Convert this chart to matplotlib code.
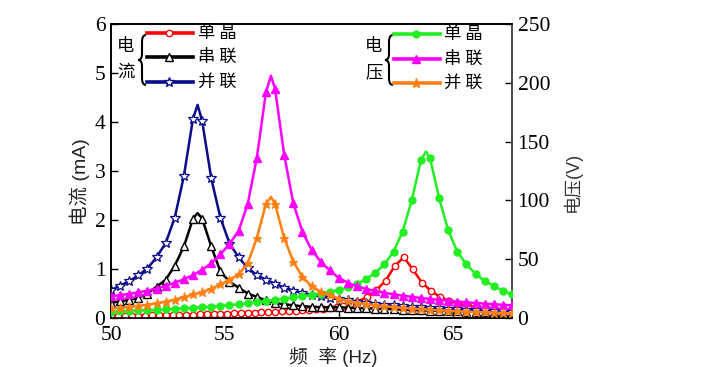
import numpy as np
import matplotlib
matplotlib.use("Agg")
import matplotlib.pyplot as plt
from matplotlib.lines import Line2D
from matplotlib.path import Path
from matplotlib.patches import PathPatch

# ---------------- data ----------------
FREQ = [50.0, 50.4, 50.8, 51.2, 51.6, 52.0, 52.4, 52.8, 53.2, 53.6,
        54.0, 54.4, 54.8, 55.2, 55.6, 56.0, 56.4, 56.8, 57.2, 57.6,
        58.0, 58.4, 58.8, 59.2, 59.6, 60.0, 60.4, 60.8, 61.2, 61.6,
        62.0, 62.4, 62.8, 63.2, 63.6, 64.0, 64.4, 64.8, 65.2, 65.6,
        66.0, 66.4, 66.8, 67.2, 67.6]

# current (mA)
I_PAR = [0.57, 0.66, 0.75, 0.87, 1.01, 1.24, 1.53, 2.05, 2.90, 4.07,
         4.02, 2.85, 2.05, 1.52, 1.24, 1.02, 0.88, 0.78, 0.70, 0.62,
         0.56, 0.51, 0.47, 0.44, 0.41, 0.38, 0.36, 0.33, 0.31, 0.29,
         0.27, 0.26, 0.24, 0.23, 0.22, 0.21, 0.20, 0.19, 0.18, 0.17,
         0.16, 0.155, 0.15, 0.14, 0.13]
I_PAR_PEAK = (53.8, 4.35)

I_SER = [0.31, 0.34, 0.37, 0.41, 0.50, 0.64, 0.78, 1.07, 1.46, 2.03,
         2.03, 1.46, 0.95, 0.74, 0.62, 0.50, 0.43, 0.36, 0.31, 0.28,
         0.26, 0.24, 0.23, 0.22, 0.22, 0.22, 0.21, 0.20, 0.20, 0.19,
         0.18, 0.18, 0.17, 0.16, 0.16, 0.15, 0.15, 0.14, 0.14, 0.13,
         0.13, 0.13, 0.12, 0.12, 0.12]
I_SER_PEAK = (53.8, 2.14)

FREQ_SINGLE = [50.0, 50.3, 50.6, 50.9, 51.2, 51.5, 51.8, 52.1, 52.4, 52.7,
               53.0, 53.3, 53.6, 53.9, 54.2, 54.5, 54.8, 55.1, 55.4, 55.7,
               56.0, 56.3, 56.6, 56.9, 57.2, 57.5, 57.8, 58.1, 58.4, 58.7,
               59.0, 59.3, 59.6, 59.9, 60.2, 60.5, 60.8, 61.25, 61.65, 62.05,
               62.45, 62.85, 63.25, 63.65, 64.05, 64.45, 64.85, 65.25, 65.65, 66.05,
               66.45, 66.85, 67.25, 67.6]
I_SINGLE = [0.040, 0.042, 0.044, 0.046, 0.048, 0.050, 0.052, 0.055, 0.058, 0.061,
            0.064, 0.067, 0.070, 0.073, 0.077, 0.081, 0.085, 0.089, 0.093, 0.098,
            0.103, 0.108, 0.114, 0.120, 0.126, 0.133, 0.140, 0.148, 0.156, 0.165,
            0.175, 0.188, 0.205, 0.228, 0.255, 0.290, 0.330, 0.43, 0.57, 0.76,
            1.06, 1.24, 0.99, 0.72, 0.55, 0.43, 0.35, 0.29, 0.25, 0.22,
            0.20, 0.18, 0.165, 0.155]

# voltage (V)
V_SER = [18.5, 19.5, 20.5, 21.8, 23.2, 25.0, 27.5, 30.0, 33.0, 36.5,
         41.0, 46.5, 54.0, 63.0, 74.0, 97.0, 136.0, 192.0, 195.0, 139.0,
         97.5, 73.5, 58.0, 48.0, 40.5, 34.0, 30.0, 27.0, 24.8, 23.0,
         21.5, 20.2, 19.0, 18.0, 17.0, 16.2, 15.4, 14.7, 14.0, 13.4,
         12.8, 12.2, 11.7, 11.2, 10.8]
V_SER_PEAK = (57.02, 206.0)

V_PAR = [8.2, 8.8, 9.5, 10.3, 11.3, 12.5, 14.0, 15.7, 17.7, 20.0,
         22.0, 25.0, 28.5, 32.5, 37.0, 46.5, 68.0, 97.0, 97.0, 68.0,
         48.0, 35.0, 27.0, 22.5, 19.5, 16.5, 14.5, 13.0, 11.8, 10.8,
         10.0, 9.3, 8.6, 8.0, 7.5, 7.0, 6.6, 6.2, 5.8, 5.5,
         5.2, 4.9, 4.6, 4.3, 4.0]
V_PAR_PEAK = (57.02, 103.0)

V_SINGLE = [5.5, 5.8, 6.1, 6.4, 6.7, 7.0, 7.4, 7.8, 8.2, 8.7,
            9.2, 9.7, 10.3, 11.0, 11.7, 12.5, 13.3, 14.3, 15.3, 16.5,
            17.5, 18.5, 19.5, 20.8, 22.2, 24.0, 26.0, 29.0, 33.0, 38.5,
            45.5, 56.5, 73.5, 100.0, 134.0, 136.0, 102.0, 74.5, 56.5, 45.5,
            37.5, 31.5, 27.5, 23.0, 20.0]
V_SINGLE_PEAK = (63.82, 141.5)

X_TICKS = [50, 55, 60, 65]
I_TICKS = [0, 1, 2, 3, 4, 5, 6]
V_TICKS = [0, 50, 100, 150, 200, 250]

LEG_I = ["单 晶", "串 联", "并 联"]
LEG_V = ["单 晶", "串 联", "并 联"]

# ---------------- style ----------------
W, H = 701, 367
fig = plt.figure(figsize=(W / 100, H / 100), dpi=100)
L, R, B, T = 111, 512, 318, 24
ax = fig.add_axes([L / W, 1 - B / H, (R - L) / W, (B - T) / H])
ax2 = ax.twinx()

SERIF = ["Liberation Serif", "DejaVu Serif"]
CJK = ["Noto Sans CJK SC", "DejaVu Sans"]
MIXED = ["Liberation Sans", "Noto Sans CJK SC"]

C_RED = "#ff0000"
C_BLK = "#000000"
C_BLU = "#0a0a8c"
C_GRN = "#22ee22"
C_MAG = "#ff00ff"
C_ORG = "#ff8010"
LW = 1.8

MS_CIRC = 4.6
MS_TRI = 5.4
MS_STAR = 7.0


def with_peak(xs, ys, peak):
    pts = sorted(list(zip(xs, ys)) + [peak])
    return [p[0] for p in pts], [p[1] for p in pts]


def draw(axis, xs, ys, peak, color, marker, mfc, ms, mew, z):
    if peak is not None:
        lx, ly = with_peak(xs, ys, peak)
    else:
        lx, ly = xs, ys
    axis.plot(lx, ly, color=color, lw=LW, zorder=z, solid_joinstyle="round")
    axis.plot(xs, ys, ls="none", marker=marker, ms=ms, mfc=mfc, mec=color,
              mew=mew, zorder=z + 0.1)


draw(ax, FREQ_SINGLE, I_SINGLE, None, C_RED, "o", "white", MS_CIRC, 1.0, 3)
draw(ax, FREQ, I_SER, I_SER_PEAK, C_BLK, "^", "white", MS_TRI, 1.0, 4)
draw(ax, FREQ, I_PAR, I_PAR_PEAK, C_BLU, "*", "white", MS_STAR, 0.9, 5)

draw(ax2, FREQ, V_SINGLE, V_SINGLE_PEAK, C_GRN, "o", C_GRN, 5.0, 1.0, 3)
draw(ax2, FREQ, V_SER, V_SER_PEAK, C_MAG, "^", C_MAG, MS_TRI, 1.0, 4)
draw(ax2, FREQ, V_PAR, V_PAR_PEAK, C_ORG, "*", C_ORG, 6.5, 0.8, 5)

ax.set_xlim(50, 67.6)
ax.set_ylim(0, 6)
ax2.set_ylim(0, 250)
ax.set_xticks(X_TICKS)
ax.set_yticks(I_TICKS)
ax2.set_yticks(V_TICKS)
ax.set_xticklabels([str(v) for v in X_TICKS], fontfamily=SERIF, fontsize=15.5)
ax.set_yticklabels([str(v) for v in I_TICKS], fontfamily=SERIF, fontsize=15.5)
ax2.set_yticklabels([str(v) for v in V_TICKS], fontfamily=SERIF, fontsize=15.5)

ax.tick_params(axis="both", direction="in", length=5, width=1.0, pad=4)
ax.tick_params(axis="x", pad=6)
ax2.tick_params(axis="y", direction="in", length=5, width=1.0, pad=4)
for a in (ax, ax2):
    for s in a.spines.values():
        s.set_linewidth(1.2)
ax2.spines["right"].set_color("#555555")

# axis labels
fig.text(80 / W, 1 - 182 / H, "电流 (mA)", rotation=90, ha="center", va="center",
         fontsize=14, family=MIXED, color="#222222")
fig.text(572 / W, 1 - 182 / H, "电压(V)", rotation=90, ha="center", va="center",
         fontsize=13, family=MIXED, color="#333333")
fig.text(333 / W, 1 - 357 / H, "频  率 (Hz)", ha="center", va="center",
         fontsize=13.5, family=MIXED, color="#222222")


# legends
def fx(x):
    return x / W


def fy(y):
    return 1 - y / H


def brace(xc, y0, y1):
    # left-pointing curly brace, pixel coordinates (y downwards)
    ym = (y0 + y1) / 2
    d = 4.0
    verts = [(xc + d, y0), (xc, y0), (xc, y0 + 7),
             (xc, ym - 6), (xc, ym), (xc - d, ym),
             (xc, ym), (xc, ym + 6),
             (xc, y1 - 7), (xc, y1), (xc + d, y1)]
    codes = [Path.MOVETO, Path.CURVE3, Path.CURVE3,
             Path.LINETO, Path.CURVE3, Path.CURVE3,
             Path.CURVE3, Path.CURVE3,
             Path.LINETO, Path.CURVE3, Path.CURVE3]
    verts = [(fx(x), fy(y)) for x, y in verts]
    fig.add_artist(PathPatch(Path(verts, codes), fc="none", ec="black", lw=1.5,
                             transform=fig.transFigure))


def legend_block(x_char, x_brace, x0, x1, xm, x_text, ys, chars, colors, markers,
                 mfcs, mss, labels):
    fig.text(fx(x_char), fy(46), chars[0], ha="center", va="center",
             fontsize=12.5, family=CJK)
    fig.text(fx(x_char), fy(72), chars[1], ha="center", va="center",
             fontsize=12.5, family=CJK)
    brace(x_brace, 35, 85)
    for y, c, m, mfc, ms, lab in zip(ys, colors, markers, mfcs, mss, labels):
        fig.add_artist(Line2D([fx(x0), fx(x1)], [fy(y), fy(y)], color=c, lw=2.6,
                              transform=fig.transFigure))
        fig.add_artist(Line2D([fx(xm)], [fy(y)], ls="none", marker=m, ms=ms,
                              mfc=mfc, mec=c, mew=1.0, transform=fig.transFigure))
        fig.text(fx(x_text), fy(y), lab, ha="left", va="center", fontsize=12.5,
                 family=CJK)


legend_block(126, 142, 147, 193, 169, 198, [33, 57, 82], ["电", "流"],
             [C_RED, C_BLK, C_BLU], ["o", "^", "*"], ["white", "white", "white"],
             [MS_CIRC, MS_TRI, MS_STAR], LEG_I)
legend_block(374, 389, 394, 440, 416, 444, [34, 59, 83], ["电", "压"],
             [C_GRN, C_MAG, C_ORG], ["o", "^", "*"], [C_GRN, C_MAG, C_ORG],
             [5.0, MS_TRI, 6.5], LEG_V)

fig.savefig("out.png", dpi=100)
